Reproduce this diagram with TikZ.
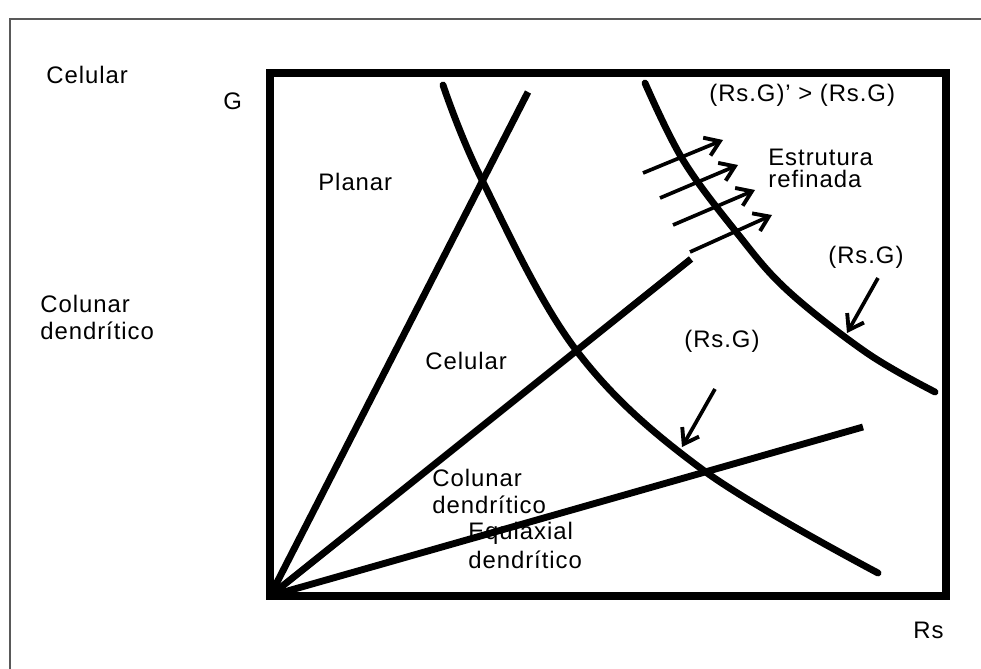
\documentclass[tikz,border=0pt]{standalone}
\usepackage{fontspec}
\setmainfont{Liberation Sans}[LetterSpace=4]
\usetikzlibrary{arrows.meta}

\begin{document}
\begin{tikzpicture}[x=0.02cm, y=-0.02cm,
  lbl/.style={anchor=base west, inner sep=0pt, font=\fontsize{13.6pt}{16pt}\selectfont},
  box/.style={line width=4.6pt},
  curve/.style={line width=3.9pt, line cap=round},
  ray/.style={line width=3.9pt},
  arrow/.style={-{Straight Barb[length=8pt,width=11pt,line width=2.2pt]}, line width=2.1pt}
]
\useasboundingbox (0,0) rectangle (981,669);
% outer frame
\draw[black!65, line width=1.3pt] (10,669) -- (10,19) -- (981,19);
% diagram box
\draw[box] (270,73) rectangle (946,596);
\coordinate (orig) at (270,596);
\coordinate (endA) at (528,92);
\coordinate (endB) at (691,259);
\coordinate (endC) at (863,427);

% rays from the origin
\draw[ray] (orig) -- (endA);
\draw[ray] (orig) -- (endB);
\draw[ray] (orig) -- (endC);

% iso (Rs.G) curves
\draw[curve] plot[smooth, tension=0.6] coordinates {(443,85) (482,180) (576,350) (703,470) (878,573)};
\draw[curve] plot[smooth, tension=0.6] coordinates {(645,83) (683,160) (737,233) (787,290) (867,353) (935,392)};

% refining arrows
\foreach \i/\xa/\ya/\xb/\yb in {1/643/173/723/140, 2/660/198/738/165, 3/673/225/755/190, 4/690/252/772/215} {
  \coordinate (rfa\i) at (\xa,\ya);
  \coordinate (rfb\i) at (\xb,\yb);
  \draw[arrow] (rfa\i) -- (rfb\i);
}

% labels
\node[lbl] (celTop) at (46,84) {Celular};
\node[lbl] (axG) at (223,110) {G};
\node[lbl] (colTop) at (40,312) {Colunar};
\node[lbl] (denTop) at (40,339) {dendrítico};
\node[lbl] (axRs) at (913,638) {Rs};

\node[lbl] (planar) at (318,191) {Planar};
\node[lbl] (celIn) at (425,369) {Celular};
\node[lbl] (colIn) at (432,486) {Colunar};
\node[lbl] (denIn) at (432,513) {dendrítico};
\node[lbl] (eqIn) at (468,539) {Equiaxial};
\node[lbl] (eqDen) at (468,568) {dendrítico};

\node[lbl] (rsgRel) at (709,102) {(Rs.G)' > (Rs.G)};
\node[lbl] (estr) at (768,166) {Estrutura};
\node[lbl] (refin) at (768,188) {refinada};
\node[lbl] (rsgR) at (828,263) {(Rs.G)};
\node[lbl] (rsgM) at (684,347) {(Rs.G)};

% pointers to the curves
\coordinate (ptR) at (847,333);
\coordinate (ptM) at (682,447);
\draw[arrow] (878,278) -- (ptR);
\draw[arrow] (715,389) -- (ptM);
\end{tikzpicture}
\end{document}
